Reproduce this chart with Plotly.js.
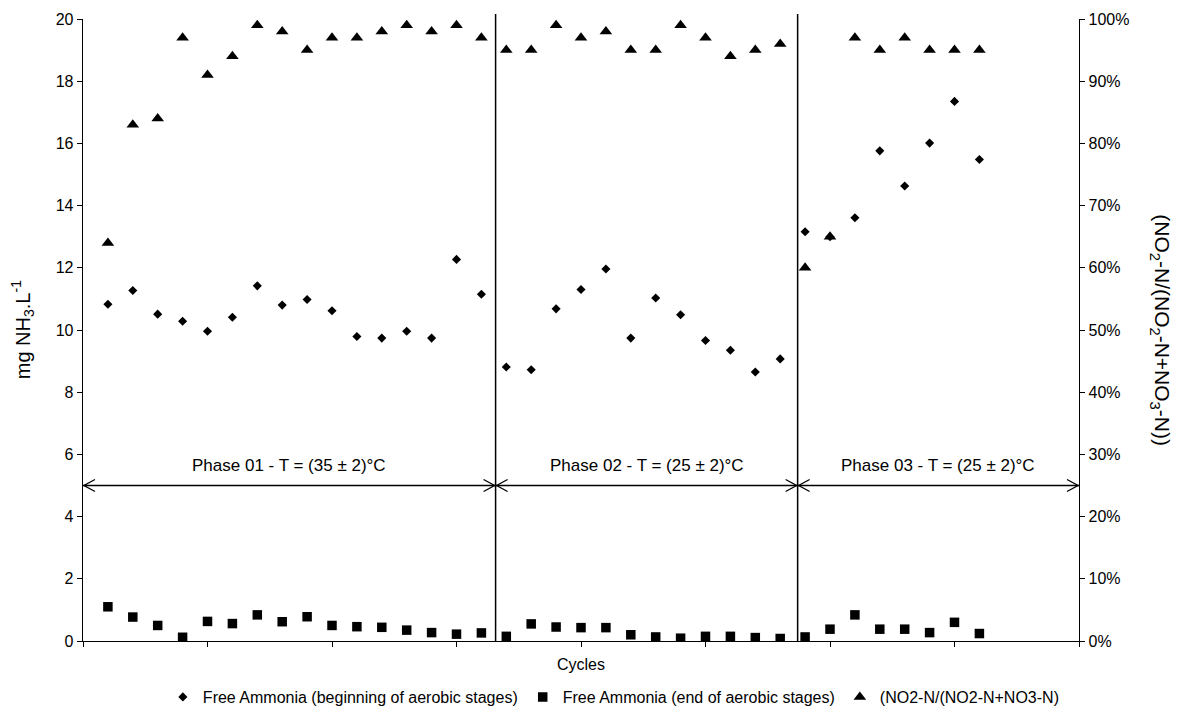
<!DOCTYPE html>
<html>
<head>
<meta charset="utf-8">
<script src="https://cdn.plot.ly/plotly-3.0.1.min.js"></script>
<style>
  html, body { margin: 0; padding: 0; background: #ffffff; }
  #chart { width: 1177px; height: 719px; }
</style>
</head>
<body>
<div id="chart"></div>
<script>
// ---- data ----
const cycles = [1, 2, 3, 4, 5, 6, 7, 8, 9, 10, 11, 12, 13, 14, 15, 16, 17, 18,
                19, 20, 21, 22, 23, 24, 25, 26, 27, 28, 29, 30, 31, 32, 33, 34, 35, 36];

const freeAmmoniaBegin = [10.83, 11.27, 10.51, 10.28, 9.96, 10.41, 11.42, 10.80, 10.98, 10.62, 9.79, 9.74, 9.96, 9.74, 12.27, 11.15,
                          8.81, 8.72, 10.68, 11.30, 11.96, 9.74, 11.03, 10.49, 9.66, 9.35, 8.65, 9.07,
                          13.16, 13.00, 13.61, 15.76, 14.63, 16.01, 17.35, 15.48];

const freeAmmoniaEnd = [1.10, 0.77, 0.50, 0.12, 0.63, 0.56, 0.84, 0.62, 0.78, 0.50, 0.46, 0.44, 0.35, 0.27, 0.22, 0.26,
                        0.15, 0.55, 0.45, 0.43, 0.43, 0.20, 0.13, 0.09, 0.15, 0.15, 0.11, 0.08,
                        0.13, 0.38, 0.84, 0.38, 0.38, 0.27, 0.60, 0.24];

const nitriteRatio = [0.64, 0.83, 0.84, 0.97, 0.91, 0.94, 0.99, 0.98, 0.95, 0.97, 0.97, 0.98, 0.99, 0.98, 0.99, 0.97,
                      0.95, 0.95, 0.99, 0.97, 0.98, 0.95, 0.95, 0.99, 0.97, 0.94, 0.95, 0.96,
                      0.60, 0.65, 0.97, 0.95, 0.97, 0.95, 0.95, 0.95];

const seriesNames = ['Free Ammonia (beginning of aerobic stages)',
                     'Free Ammonia (end of aerobic stages)',
                     '(NO2-N/(NO2-N+NO3-N)'];

const phaseLabels = ['Phase 01 - T = (35 \u00b1 2)\u00b0C',
                     'Phase 02 - T = (25 \u00b1 2)\u00b0C',
                     'Phase 03 - T = (25 \u00b1 2)\u00b0C'];
const phaseStart = [0, 16.57, 28.7];
const phaseEnd = [16.57, 28.7, 40];
const phaseBoundaries = [16.57, 28.7];
const arrowLevel = 5;

const leftTicks = [0, 2, 4, 6, 8, 10, 12, 14, 16, 18, 20];

// ---- drawing ----
const FONT = 'Liberation Sans, Arial, sans-serif';

const traces = [
  {
    x: cycles, y: freeAmmoniaBegin, name: seriesNames[0], type: 'scatter', mode: 'markers',
    marker: { symbol: 'diamond', size: 7, color: '#000000' }
  },
  {
    x: cycles, y: freeAmmoniaEnd, name: seriesNames[1], type: 'scatter', mode: 'markers',
    marker: { symbol: 'square', size: 9.5, color: '#000000' }
  },
  {
    x: cycles, y: nitriteRatio, name: seriesNames[2], type: 'scatter', mode: 'markers', yaxis: 'y2',
    marker: { symbol: 'triangle-up', size: 11, color: '#000000' }
  }
];

const shapes = [];
const annotations = [];

// vertical phase separators
phaseBoundaries.forEach(function (b) {
  shapes.push({ type: 'line', xref: 'x', yref: 'paper', x0: b, x1: b, y0: 0, y1: 1.008,
                line: { color: '#000000', width: 1.5 } });
});

// double-headed phase arrows with open chevron heads
phaseLabels.forEach(function (lab, i) {
  const a = phaseStart[i], b = phaseEnd[i];
  shapes.push({ type: 'line', xref: 'x', yref: 'y', x0: a, x1: b, y0: arrowLevel, y1: arrowLevel,
                line: { color: '#000000', width: 1.3 } });
  shapes.push({ type: 'path', xref: 'x', yref: 'y', xsizemode: 'pixel', ysizemode: 'pixel',
                xanchor: a, yanchor: arrowLevel, path: 'M 12,6 L 1,0 L 12,-6',
                line: { color: '#000000', width: 1.3 } });
  shapes.push({ type: 'path', xref: 'x', yref: 'y', xsizemode: 'pixel', ysizemode: 'pixel',
                xanchor: b, yanchor: arrowLevel, path: 'M -12,6 L -1,0 L -12,-6',
                line: { color: '#000000', width: 1.3 } });
  annotations.push({ xref: 'x', yref: 'y', x: (a + b) / 2, y: arrowLevel, yshift: 9,
                     yanchor: 'bottom', xanchor: 'center', showarrow: false, text: lab,
                     font: { family: FONT, size: 17, color: '#000000' } });
});

// axis titles
annotations.push({ xref: 'paper', yref: 'paper', x: -0.061, y: 0.5, xanchor: 'center', yanchor: 'middle',
                   showarrow: false, textangle: -90, text: 'mg NH<sub>3</sub>.L<sup>-1</sup>',
                   font: { family: FONT, size: 20, color: '#000000' } });
annotations.push({ xref: 'paper', yref: 'paper', x: 1.082, y: 0.5, xanchor: 'center', yanchor: 'middle',
                   showarrow: false, textangle: 90,
                   text: '(NO<sub>2</sub>-N/(NO<sub>2</sub>-N+NO<sub>3</sub>-N))',
                   font: { family: FONT, size: 21, color: '#000000' } });
annotations.push({ xref: 'paper', yref: 'paper', x: 0.5, y: -0.037, xanchor: 'center', yanchor: 'middle',
                   showarrow: false, text: 'Cycles',
                   font: { family: FONT, size: 16, color: '#000000' } });

const layout = {
  width: 1177, height: 719,
  margin: { l: 83, r: 98, t: 19, b: 78, pad: 0, autoexpand: false },
  paper_bgcolor: '#ffffff', plot_bgcolor: '#ffffff',
  font: { family: FONT, size: 16, color: '#000000' },
  showlegend: true,
  legend: { orientation: 'h', x: 0.533, xanchor: 'center', y: -0.09, yanchor: 'middle',
            font: { family: FONT, size: 16, color: '#000000' }, itemsizing: 'trace',
            bgcolor: 'rgba(0,0,0,0)', traceorder: 'normal' },
  xaxis: {
    range: [0, 40], tickvals: [0, 5, 10, 15, 20, 25, 30, 35, 40], showticklabels: false,
    ticks: 'outside', ticklen: 5, tickcolor: '#000000', tickwidth: 1, automargin: false,
    showline: true, linecolor: '#000000', linewidth: 1.3, showgrid: false, zeroline: false,
    fixedrange: true
  },
  yaxis: {
    range: [0, 20], tickvals: leftTicks, ticks: 'outside', ticklen: 5, tickcolor: '#000000',
    showline: true, linecolor: '#000000', linewidth: 1.3, showgrid: false, zeroline: false,
    automargin: false,
    tickfont: { family: FONT, size: 16, color: '#000000' }, fixedrange: true
  },
  yaxis2: {
    overlaying: 'y', side: 'right', range: [0, 1], dtick: 0.1, tick0: 0, tickformat: '.0%',
    ticks: 'outside', ticklen: 5, tickcolor: '#000000', automargin: false,
    showline: true, linecolor: '#000000', linewidth: 1.3, showgrid: false, zeroline: false,
    tickfont: { family: FONT, size: 16, color: '#000000' }, fixedrange: true
  },
  shapes: shapes,
  annotations: annotations
};

Plotly.newPlot('chart', traces, layout, { displayModeBar: false, staticPlot: true });
</script>
</body>
</html>
